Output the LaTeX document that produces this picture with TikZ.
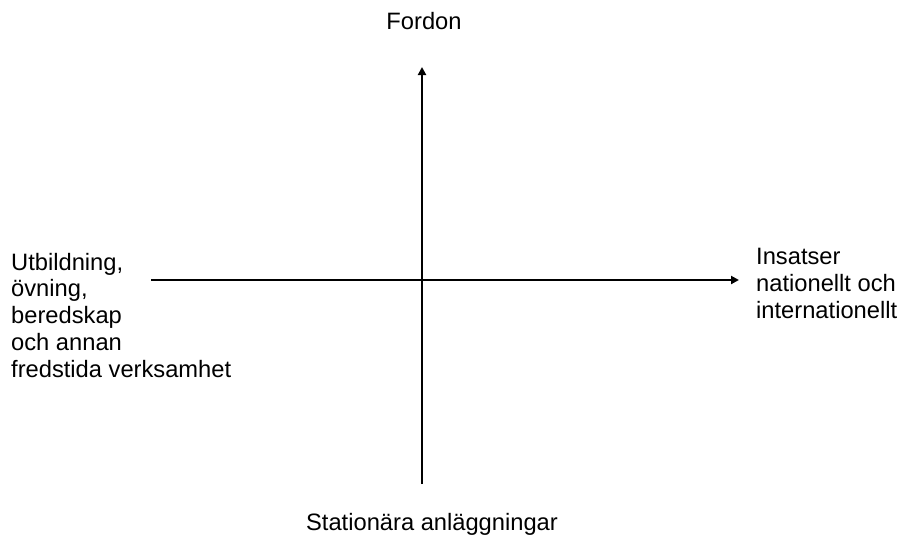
\documentclass[tikz,border=0pt]{standalone}
\usepackage{fontspec}
\setmainfont{Liberation Sans}
\usetikzlibrary{arrows.meta}
\begin{document}
\begin{tikzpicture}[x=1pt,y=-1pt,
  axis/.style={line width=2pt,-{Triangle[length=8pt,width=8pt]}},
  lbl/.style={inner sep=0pt,font=\fontsize{23.7}{26.7}\selectfont,align=left}]
\useasboundingbox (0,0) rectangle (901,538);
\coordinate (vb) at (422,484);
\coordinate (vt) at (422,67);
\coordinate (hl) at (151,280);
\coordinate (hr) at (739,280);
\draw[axis] (vb) -- (vt);
\draw[axis] (hl) -- (hr);
\node[lbl,anchor=base] (top) at (424,29) {Fordon};
\node[lbl,anchor=base] (bottom) at (432,530) {Stationära anläggningar};
\node[lbl,anchor=base west] (left) at (11,377) {Utbildning,\\övning,\\beredskap\\och annan\\fredstida verksamhet};
\node[lbl,anchor=base west] (right) at (756,318) {Insatser\\nationellt och\\internationellt};
\end{tikzpicture}
\end{document}
